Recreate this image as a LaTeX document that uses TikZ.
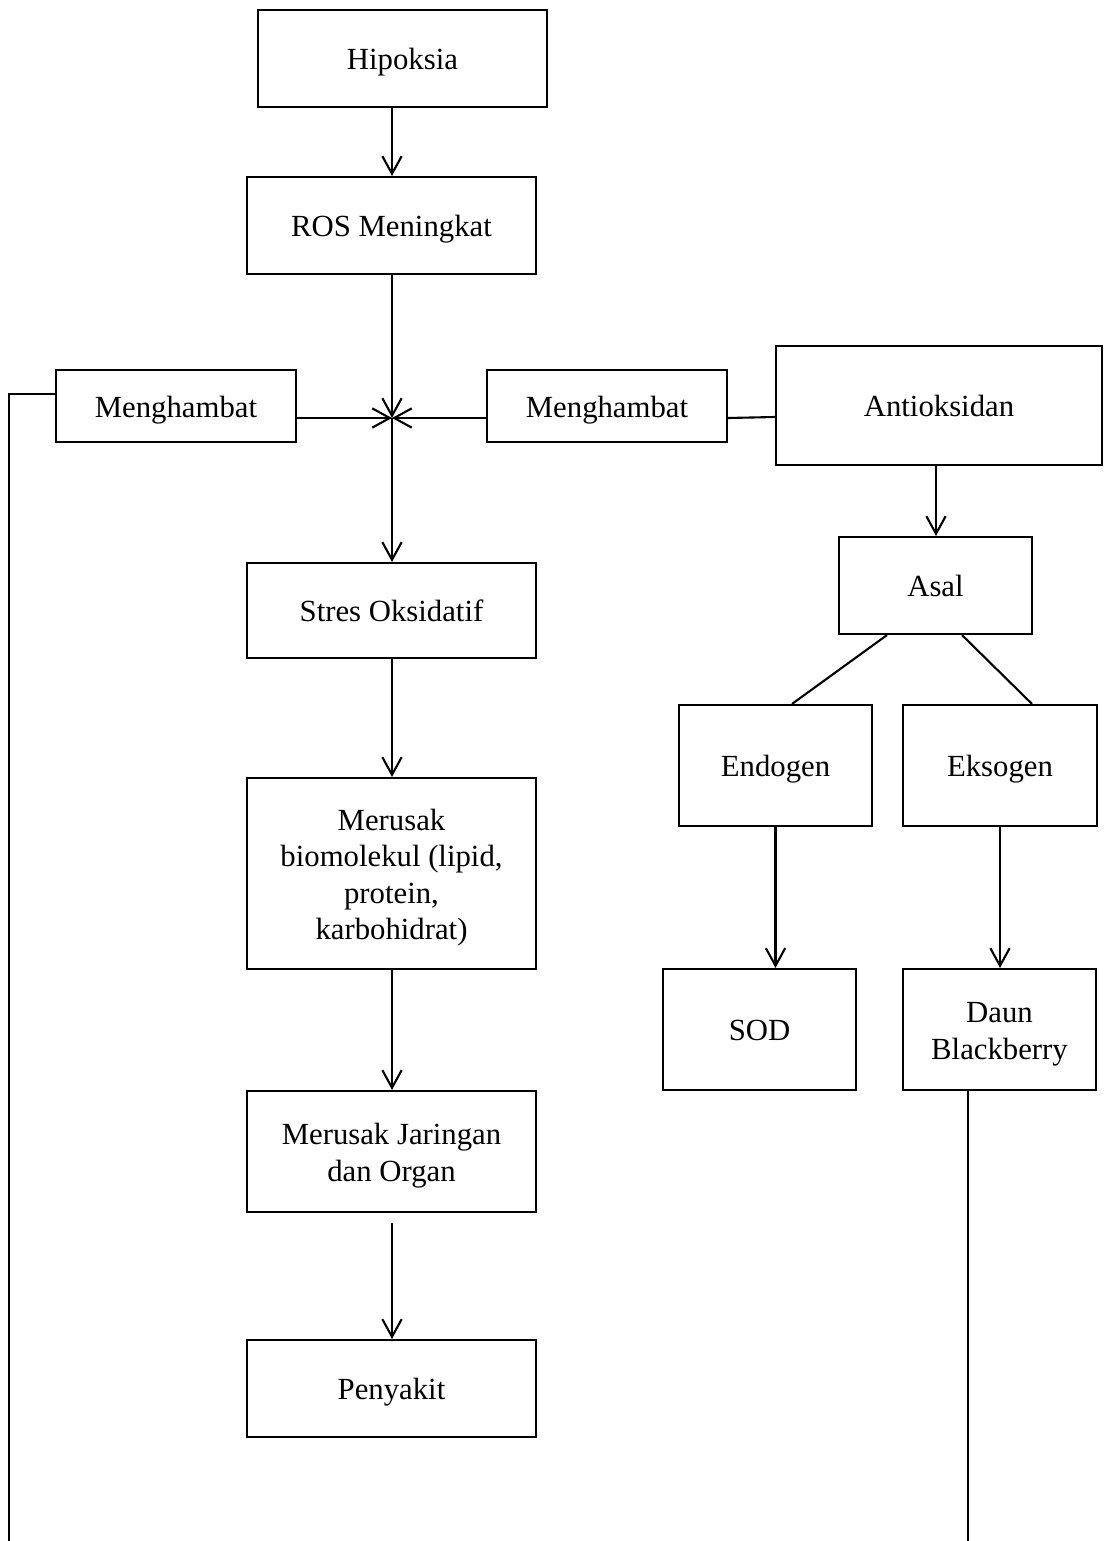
\documentclass[tikz,border=0pt]{standalone}
\usepackage{fontspec}
\setmainfont{Liberation Serif}
\usetikzlibrary{arrows.meta}

\begin{document}
\begin{tikzpicture}[x=0.02cm, y=-0.02cm, line width=1.2pt, line join=miter,
    font=\fontsize{17.5}{20.7}\selectfont,
    box/.style={draw, inner sep=0pt, align=center, text height=13pt, text depth=0pt},
    wh/.style 2 args={minimum width=#1*0.02cm, minimum height=#2*0.02cm},
    arr/.style={-{Straight Barb[length=10pt, width=11pt]}}]

    % page frame
    \useasboundingbox (0,0) rectangle (1103,1541);

    % main column
    \node[box, wh={289}{97}] (hip) at (402.5,58.5) {Hipoksia};
    \node[box, wh={289}{97}] (ros) at (391.5,225.5) {ROS Meningkat};
    \node[box, wh={289}{95}] (stres) at (391.5,610.5) {Stres Oksidatif};
    \node[box, wh={289}{191}, text height=75.1pt] (bio) at (391.5,873.5)
        {Merusak\\biomolekul (lipid,\\protein,\\karbohidrat)};
    \node[box, wh={289}{121}, text height=33.7pt] (jar) at (391.5,1151.5)
        {Merusak Jaringan\\dan Organ};
    \node[box, wh={289}{97}] (sakit) at (391.5,1388.5) {Penyakit};

    % inhibitors
    \node[box, wh={240}{72}] (hambatL) at (176,406) {Menghambat};
    \node[box, wh={240}{72}] (hambatR) at (607,406) {Menghambat};

    % antioxidant branch
    \node[box, wh={326}{119}] (anti) at (939,405.5) {Antioksidan};
    \node[box, wh={193}{97}] (asal) at (935.5,585.5) {Asal};
    \node[box, wh={193}{121}] (endo) at (775.5,765.5) {Endogen};
    \node[box, wh={194}{121}] (ekso) at (1000,765.5) {Eksogen};
    \node[box, wh={193}{121}] (sod) at (759.5,1029.5) {SOD};
    \node[box, wh={193}{121}, text height=33.7pt] (daun) at (999.5,1029.5) {Daun\\Blackberry};

    % junction point and loose ends
    \coordinate (J) at (392,418);
    \coordinate (endL) at (9,1541);
    \coordinate (endR) at (968,1541);

    % arrows of the main column
    \draw[arr] (hip.south -| J) -- (ros.north -| J);
    \draw[arr] (ros.south -| J) -- (J);
    \draw[arr] (hambatL.east |- J) -- (J);
    \draw[arr] (hambatR.west |- J) -- (J);
    \draw[arr] (J) -- (stres.north -| J);
    \draw[arr] (stres.south -| J) -- (bio.north -| J);
    \draw[arr] (bio.south -| J) -- (jar.north -| J);
    \draw[arr] ([yshift=-10*0.02cm]jar.south -| J) -- (sakit.north -| J);

    % antioxidant connectors
    \draw (hambatR.east |- J) -- (anti.west |- 0,417);
    \draw[arr] (anti.south -| 936,0) -- (asal.north -| 936,0);
    \draw (asal.south -| 887,0) -- (endo.north -| 792,0);
    \draw (asal.south -| 962,0) -- (ekso.north -| 1032,0);
    \draw[arr] (endo.south) -- (sod.north -| endo.south);
    \draw[arr] (ekso.south) -- (daun.north -| ekso.south);

    % long return lines
    \draw (daun.south -| endR) -- (endR);
    \draw (hambatL.west |- 0,394) -| (endL);

\end{tikzpicture}
\end{document}
